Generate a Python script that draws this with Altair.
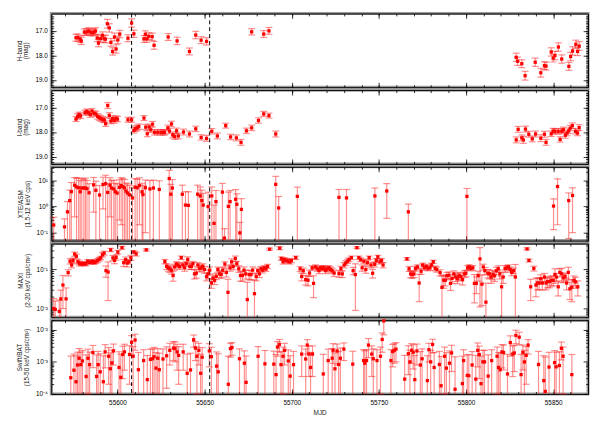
import altair as alt
import pandas as pd
import numpy as np

# ---------------- data ----------------
h_mjd = [55576.2, 55577.3, 55578.6, 55579.2, 55581.0, 55582.2, 55583.3, 55584.4, 55585.5, 55586.5,
         55587.4, 55588.4, 55589.1, 55590.2, 55591.4, 55592.3, 55593.1, 55594.2, 55595.3, 55596.2,
         55597.2, 55598.3, 55599.2, 55600.2, 55601.3, 55606.0, 55608.1, 55609.4, 55615.2, 55616.0,
         55616.9, 55618.0, 55619.9, 55621.0, 55629.1, 55634.2, 55641.3, 55644.9, 55648.0, 55651.1,
         55677.0, 55683.9, 55686.9,
         55828.8, 55829.6, 55832.0, 55833.9, 55839.7, 55842.9, 55845.0, 55845.9, 55848.9, 55850.0,
         55851.0, 55853.0, 55854.9, 55859.0, 55860.0, 55861.1, 55863.0, 55864.0, 55864.9]
h_mag = [17.28, 17.28, 17.34, 17.41, 17.05, 17.05, 17.01, 17.05, 17.08, 17.05,
         17.01, 17.29, 17.50, 17.32, 17.18, 17.32, 17.34, 16.71, 16.88, 17.47,
         17.84, 17.25, 17.74, 17.37, 17.13, 17.30, 16.68, 17.12, 17.33, 17.14,
         17.33, 17.22, 17.24, 17.59, 17.25, 17.41, 17.84, 17.17, 17.38, 17.43,
         17.04, 17.13, 17.00,
         18.08, 18.24, 18.34, 18.83, 18.28, 18.71, 18.42, 18.44, 17.86, 18.11,
         18.01, 17.66, 18.15, 18.45, 18.05, 17.82, 17.55, 17.84, 17.62]
h_err = [0.14, 0.15, 0.14, 0.15, 0.13, 0.14, 0.14, 0.14, 0.13, 0.14,
         0.14, 0.15, 0.15, 0.14, 0.14, 0.15, 0.15, 0.18, 0.17, 0.16,
         0.15, 0.16, 0.17, 0.15, 0.15, 0.14, 0.17, 0.15, 0.14, 0.14,
         0.14, 0.14, 0.15, 0.16, 0.14, 0.15, 0.14, 0.15, 0.14, 0.15,
         0.13, 0.14, 0.14,
         0.17, 0.17, 0.16, 0.18, 0.17, 0.18, 0.16, 0.16, 0.17, 0.16,
         0.17, 0.17, 0.17, 0.16, 0.17, 0.17, 0.17, 0.17, 0.18]

i_mjd = [55576.2, 55577.1, 55577.9, 55578.8, 55581.4, 55582.4, 55583.3, 55584.4, 55585.4, 55586.5,
         55587.6, 55588.6, 55589.5, 55590.4, 55591.6, 55592.5, 55593.2, 55594.4, 55595.3, 55596.2,
         55597.2, 55598.1, 55599.1, 55600.0, 55606.0, 55608.1, 55609.4, 55610.3, 55611.3, 55612.2,
         55615.2, 55616.2, 55617.1, 55618.2, 55619.1, 55620.1, 55621.2, 55623.1, 55624.9, 55626.1,
         55627.0, 55628.9, 55629.8, 55631.0, 55631.7, 55632.8, 55633.9, 55634.9, 55637.9, 55641.3,
         55644.9, 55648.0, 55651.1, 55654.1, 55657.3, 55662.1, 55664.9, 55668.2, 55670.9, 55674.0,
         55677.0, 55680.9, 55683.9, 55686.9, 55690.8,
         55828.8, 55829.9, 55832.0, 55832.9, 55834.1, 55836.0, 55838.0, 55839.9, 55842.9, 55845.0,
         55845.9, 55848.9, 55850.0, 55851.0, 55852.9, 55854.0, 55854.9, 55855.9, 55857.0, 55858.0,
         55858.9, 55859.8, 55861.0, 55862.8, 55864.0, 55864.9]
i_mag = [17.47, 17.36, 17.30, 17.34, 17.21, 17.16, 17.21, 17.29, 17.14, 17.24,
         17.26, 17.36, 17.41, 17.45, 17.49, 17.51, 17.66, 16.92, 17.32, 17.55,
         17.45, 17.53, 17.45, 17.47, 17.50, 17.50, 17.93, 17.87, 17.83, 17.78,
         17.43, 17.80, 18.07, 17.79, 17.91, 17.68, 18.01, 18.01, 18.01, 18.01,
         18.01, 17.83, 17.96, 17.67, 18.12, 18.18, 17.95, 18.16, 18.00, 18.08,
         17.87, 18.22, 18.26, 17.97, 18.16, 17.74, 18.20, 18.24, 18.42, 17.95,
         17.83, 17.53, 17.26, 17.33, 18.08,
         18.32, 17.89, 18.24, 18.32, 17.88, 18.09, 18.28, 18.08, 18.25, 18.09,
         18.42, 18.07, 17.96, 17.97, 17.97, 18.30, 17.96, 17.91, 18.13, 18.04,
         17.95, 17.84, 17.74, 17.97, 18.04, 17.82]
i_err = [0.10, 0.11, 0.11, 0.11, 0.10, 0.10, 0.10, 0.11, 0.10, 0.10,
         0.11, 0.11, 0.11, 0.11, 0.11, 0.11, 0.11, 0.12, 0.11, 0.11,
         0.11, 0.11, 0.11, 0.11, 0.10, 0.10, 0.11, 0.11, 0.11, 0.11,
         0.10, 0.11, 0.12, 0.11, 0.11, 0.11, 0.11, 0.11, 0.11, 0.11,
         0.11, 0.11, 0.11, 0.11, 0.12, 0.12, 0.11, 0.12, 0.12, 0.12,
         0.11, 0.11, 0.12, 0.11, 0.12, 0.10, 0.11, 0.12, 0.12, 0.11,
         0.11, 0.11, 0.10, 0.10, 0.12,
         0.12, 0.12, 0.12, 0.14, 0.12, 0.12, 0.12, 0.12, 0.14, 0.12,
         0.12, 0.11, 0.11, 0.11, 0.11, 0.11, 0.11, 0.11, 0.12, 0.11,
         0.11, 0.11, 0.11, 0.11, 0.11, 0.12]

asm_mjd = [55563.4, 55569.6, 55571.3, 55572.6, 55573.5, 55575.4, 55576.5, 55577.7, 55578.6, 55579.5,
           55580.7, 55581.6, 55582.5, 55583.7, 55586.3, 55587.6, 55589.7, 55591.7, 55593.2, 55594.4,
           55595.7, 55596.6, 55597.9, 55598.7, 55599.8, 55601.1, 55602.1, 55603.0, 55604.0, 55604.9,
           55605.8, 55606.9, 55608.6, 55610.1, 55611.3, 55612.6, 55614.1, 55614.6, 55616.0, 55618.6,
           55620.6, 55624.0, 55629.7, 55630.6, 55631.5, 55637.2, 55639.0, 55640.7, 55646.0, 55647.5,
           55648.4, 55649.2, 55652.0, 55654.1, 55655.4, 55656.5, 55660.2, 55661.4, 55663.6, 55664.6,
           55667.8, 55668.5, 55670.2, 55671.1, 55690.8, 55692.5, 55703.2, 55727.1, 55731.4, 55747.7,
           55754.5, 55766.9, 55800.5, 55850.2, 55852.5, 55858.9, 55861.1]
asm_rate = [0.196, 0.166, 0.62, 1.66, 3.6, 6.4, 5.5, 5.1, 3.6, 5.0,
            5.0, 5.0, 4.7, 3.3, 6.6, 4.1, 2.7, 6.8, 7.3, 3.4,
            6.4, 5.0, 4.6, 3.6, 3.2, 5.3, 6.2, 5.7, 5.0, 3.8,
            3.2, 2.75, 2.1, 5.4, 5.1, 6.2, 3.6, 2.8, 5.1, 4.6,
            5.0, 4.4, 11.5, 2.9, 5.0, 2.9, 1.12, 1.09, 2.9, 2.5,
            1.66, 1.12, 0.98, 2.5, 0.226, 1.52, 3.5, 0.062, 1.0, 1.52,
            1.86, 1.2, 0.098, 0.77, 6.9, 0.87, 2.4, 2.2, 2.1, 2.5,
            3.85, 0.62, 2.4, 1.03, 5.7, 1.66, 2.6]
asm_err = [0.19, 0.17, 0.9, 2.5, 4.5, 6.0, 6.5, 7.0, 6.0, 6.5,
           5.5, 7.0, 5.0, 4.0, 6.0, 5.0, 3.5, 6.0, 8.0, 4.0,
           6.0, 5.0, 5.0, 4.0, 4.0, 5.0, 6.0, 6.0, 5.5, 4.0,
           4.0, 3.5, 3.0, 6.0, 5.5, 6.0, 4.0, 3.5, 5.0, 5.0,
           5.0, 5.0, 12.0, 4.0, 5.5, 3.5, 2.5, 2.5, 3.5, 3.0,
           2.5, 2.0, 2.5, 3.0, 0.9, 2.5, 4.0, 0.08, 2.5, 2.5,
           2.5, 1.8, 0.15, 1.2, 7.0, 1.5, 3.0, 2.2, 2.3, 2.5,
           3.5, 0.6, 2.4, 0.9, 5.5, 1.6, 2.5]

maxi_mjd = [55563.4, 55564.3, 55566.6, 55567.5, 55568.7, 55570.5, 55571.7, 55572.8, 55573.7, 55574.5,
            55575.4, 55576.4, 55577.3, 55578.2, 55579.2, 55580.1, 55581.0, 55581.9, 55582.9, 55583.8,
            55584.8, 55585.7, 55586.7, 55587.6, 55588.5, 55589.5, 55590.4, 55591.4, 55592.3, 55593.4,
            55594.6, 55596.1, 55597.4, 55598.3, 55599.2, 55600.2, 55602.6, 55603.6, 55604.7, 55605.6,
            55606.6, 55607.7, 55609.4, 55610.7, 55616.5, 55627.2, 55628.2, 55629.1, 55630.0, 55631.0,
            55631.9, 55632.8, 55633.8, 55634.7, 55635.6, 55636.6, 55637.5, 55638.5, 55639.4, 55640.3,
            55641.5, 55642.4, 55643.3, 55644.2, 55645.2, 55646.1, 55647.1, 55648.0, 55648.9, 55649.9,
            55651.1, 55652.0, 55652.9, 55653.9, 55654.8, 55655.7, 55656.7, 55657.6, 55658.6, 55659.5,
            55660.4, 55661.6, 55662.5, 55663.4, 55664.6, 55665.5, 55666.4, 55667.6, 55668.5, 55669.6,
            55670.6, 55671.7, 55672.6, 55673.6, 55674.5, 55675.6, 55676.6, 55677.5, 55678.6, 55679.6,
            55680.5, 55681.5, 55682.4, 55683.3, 55684.3, 55685.2, 55686.1, 55687.3, 55693.1, 55694.0,
            55695.0, 55695.9, 55696.8, 55697.8, 55698.9, 55699.8, 55702.3,
            55704.8, 55705.7, 55706.6, 55708.0, 55709.3, 55710.2, 55711.7, 55712.5, 55713.6, 55714.7,
            55715.6, 55716.6, 55717.5, 55718.5, 55719.4, 55720.3, 55721.3, 55722.2, 55723.2, 55724.3,
            55727.1, 55728.2, 55729.0, 55730.1, 55731.0, 55732.0, 55732.9, 55734.2, 55735.2, 55736.5,
            55737.4, 55738.5, 55739.5, 55740.4, 55741.4, 55742.5, 55743.4, 55744.4, 55745.5, 55746.4,
            55747.6, 55748.5, 55749.4, 55750.6, 55751.5, 55752.4, 55766.1, 55767.3, 55768.2, 55769.1,
            55770.1, 55771.0, 55772.1, 55773.1, 55774.2, 55775.1, 55776.1, 55777.2, 55778.1, 55779.3,
            55780.2, 55781.2, 55782.3, 55783.2, 55785.1, 55786.2, 55787.2, 55788.1, 55789.0, 55790.2,
            55791.1, 55792.0, 55793.0, 55794.1, 55795.0, 55796.0, 55796.9, 55798.0, 55799.0, 55799.9,
            55800.9, 55801.8, 55802.7, 55803.9, 55804.8, 55805.9, 55806.9, 55808.0, 55809.1, 55809.9,
            55810.8, 55811.4, 55812.5, 55813.4, 55814.4, 55815.5, 55816.4, 55817.4, 55818.5, 55819.4,
            55820.4, 55821.3, 55822.4, 55823.4, 55824.3, 55825.3, 55826.2, 55827.3, 55828.3, 55835.0,
            55836.1, 55837.1, 55838.9, 55840.1, 55841.0, 55842.0, 55842.9, 55843.8, 55845.0, 55845.9,
            55846.8, 55848.0, 55848.9, 55850.0, 55851.0, 55851.9, 55852.9, 55853.8, 55854.9, 55855.9,
            55856.8, 55857.7, 55858.7, 55859.6, 55860.7, 55861.9, 55862.8, 55864.1]
maxi_rate = [0.0100, 0.0095, 0.0085, 0.0177, 0.040, 0.0177, 0.083, 0.163, 0.130, 0.170,
             0.247, 0.217, 0.157, 0.143, 0.140, 0.140, 0.140, 0.140, 0.163, 0.152,
             0.152, 0.163, 0.150, 0.157, 0.170, 0.183, 0.197, 0.238, 0.262, 0.093,
             0.086, 0.316, 0.197, 0.170, 0.204, 0.277, 0.360, 0.149, 0.178, 0.146,
             0.157, 0.200, 0.280, 0.250, 0.316, 0.160, 0.120, 0.110, 0.104, 0.096,
             0.070, 0.116, 0.137, 0.130, 0.120, 0.200, 0.130, 0.110, 0.140, 0.180,
             0.120, 0.120, 0.140, 0.077, 0.080, 0.130, 0.106, 0.110, 0.120, 0.100,
             0.066, 0.077, 0.096, 0.045, 0.060, 0.053, 0.067, 0.100, 0.077, 0.074,
             0.096, 0.137, 0.084, 0.026, 0.110, 0.157, 0.118, 0.190, 0.140, 0.104,
             0.070, 0.070, 0.096, 0.077, 0.017, 0.074, 0.074, 0.096, 0.024, 0.066,
             0.093, 0.077, 0.104, 0.096, 0.110, 0.104, 0.120, 0.330, 0.350, 0.190,
             0.157, 0.180, 0.170, 0.163, 0.157, 0.170, 0.200,
             0.104, 0.066, 0.093, 0.055, 0.053, 0.081, 0.110, 0.044, 0.116, 0.104,
             0.093, 0.110, 0.106, 0.110, 0.093, 0.104, 0.110, 0.100, 0.093, 0.081,
             0.078, 0.106, 0.077, 0.130, 0.146, 0.163, 0.178, 0.200, 0.093, 0.074,
             0.360, 0.200, 0.178, 0.110, 0.163, 0.100, 0.149, 0.200, 0.130, 0.080,
             0.135, 0.170, 0.210, 0.157, 0.170, 0.130, 0.186, 0.104, 0.077, 0.074,
             0.077, 0.106, 0.116, 0.045, 0.090, 0.130, 0.110, 0.120, 0.107, 0.110,
             0.130, 0.157, 0.107, 0.100, 0.083, 0.035, 0.053, 0.053, 0.069, 0.071,
             0.044, 0.059, 0.077, 0.064, 0.058, 0.069, 0.066, 0.055, 0.077, 0.080,
             0.110, 0.117, 0.107, 0.110, 0.044, 0.044, 0.070, 0.186, 0.042, 0.116,
             0.093, 0.0146, 0.080, 0.077, 0.064, 0.074, 0.069, 0.093, 0.104, 0.077,
             0.036, 0.064, 0.106, 0.110, 0.116, 0.100, 0.084, 0.093, 0.064, 0.335,
             0.170, 0.036, 0.106, 0.040, 0.045, 0.045, 0.058, 0.045, 0.064, 0.045,
             0.049, 0.049, 0.053, 0.053, 0.074, 0.064, 0.036, 0.084, 0.077, 0.061,
             0.066, 0.045, 0.084, 0.032, 0.035, 0.053, 0.048, 0.036]
maxi_err = [0.008, 0.006, 0.008, 0.012, 0.03, 0.016, 0.015, 0.025, 0.02, 0.025,
            0.03, 0.03, 0.02, 0.02, 0.015, 0.015, 0.015, 0.015, 0.015, 0.015,
            0.015, 0.015, 0.015, 0.015, 0.02, 0.02, 0.02, 0.03, 0.03, 0.03,
            0.07, 0.03, 0.03, 0.03, 0.03, 0.03, 0.03, 0.03, 0.03, 0.03,
            0.02, 0.03, 0.02, 0.03, 0.02, 0.02, 0.02, 0.02, 0.02, 0.02,
            0.02, 0.02, 0.02, 0.02, 0.02, 0.02, 0.02, 0.02, 0.02, 0.03,
            0.02, 0.02, 0.02, 0.02, 0.02, 0.02, 0.02, 0.02, 0.02, 0.02,
            0.015, 0.02, 0.02, 0.012, 0.012, 0.012, 0.012, 0.015, 0.015, 0.015,
            0.015, 0.02, 0.02, 0.03, 0.02, 0.03, 0.02, 0.03, 0.02, 0.02,
            0.02, 0.02, 0.02, 0.02, 0.03, 0.02, 0.02, 0.02, 0.03, 0.015,
            0.015, 0.015, 0.015, 0.015, 0.015, 0.015, 0.015, 0.02, 0.03, 0.02,
            0.02, 0.02, 0.02, 0.02, 0.02, 0.02, 0.02,
            0.015, 0.015, 0.015, 0.015, 0.015, 0.015, 0.015, 0.025, 0.015, 0.015,
            0.015, 0.015, 0.015, 0.015, 0.015, 0.015, 0.015, 0.015, 0.015, 0.015,
            0.015, 0.015, 0.015, 0.02, 0.02, 0.02, 0.02, 0.02, 0.02, 0.065,
            0.02, 0.02, 0.02, 0.02, 0.02, 0.02, 0.02, 0.02, 0.02, 0.02,
            0.02, 0.02, 0.02, 0.02, 0.02, 0.02, 0.015, 0.015, 0.015, 0.015,
            0.015, 0.015, 0.015, 0.03, 0.015, 0.015, 0.015, 0.015, 0.015, 0.015,
            0.015, 0.015, 0.015, 0.015, 0.015, 0.034, 0.02, 0.015, 0.015, 0.015,
            0.015, 0.015, 0.015, 0.015, 0.015, 0.015, 0.015, 0.015, 0.015, 0.015,
            0.015, 0.015, 0.015, 0.015, 0.03, 0.02, 0.02, 0.175, 0.03, 0.02,
            0.02, 0.03, 0.02, 0.02, 0.02, 0.02, 0.02, 0.02, 0.02, 0.02,
            0.03, 0.02, 0.02, 0.015, 0.015, 0.015, 0.015, 0.015, 0.07, 0.02,
            0.015, 0.02, 0.015, 0.02, 0.015, 0.015, 0.015, 0.015, 0.015, 0.015,
            0.015, 0.015, 0.015, 0.015, 0.03, 0.015, 0.015, 0.02, 0.03, 0.015,
            0.015, 0.015, 0.03, 0.015, 0.02, 0.015, 0.015, 0.015]

bat_mjd = [55573.2, 55575.0, 55576.2, 55577.1, 55578.0, 55579.0, 55579.9, 55582.0, 55583.1, 55584.0,
           55585.9, 55588.0, 55588.9, 55590.1, 55591.9, 55592.9, 55594.9, 55595.9, 55596.8, 55597.7,
           55600.9, 55601.9, 55603.0, 55604.0, 55606.9, 55608.1, 55609.0, 55610.1, 55612.0, 55615.0,
           55617.1, 55618.9, 55620.1, 55621.0, 55622.1, 55623.1, 55624.0, 55626.1, 55628.2, 55630.0,
           55632.1, 55633.0, 55634.2, 55635.1, 55637.7, 55640.0, 55641.9, 55643.7, 55644.7, 55645.6,
           55646.7, 55647.7, 55648.6, 55652.7, 55653.9, 55656.9, 55657.8, 55663.6, 55664.8, 55665.7,
           55670.0, 55672.8, 55673.8, 55680.7, 55684.6, 55689.7, 55691.0, 55691.8, 55692.9, 55693.8,
           55695.0, 55695.9, 55698.0, 55699.1, 55701.0,
           55705.7, 55708.0, 55708.9, 55709.8, 55710.8, 55711.9, 55718.1, 55720.9, 55723.2, 55723.7,
           55724.8, 55726.0, 55726.9, 55727.9, 55729.9, 55735.0, 55741.2, 55741.9, 55742.9, 55744.0,
           55745.9, 55746.8, 55748.9, 55750.9, 55751.9, 55752.8, 55756.9, 55757.9, 55758.8, 55759.8,
           55764.8, 55766.9, 55767.8, 55768.8, 55769.7, 55770.6, 55771.8, 55773.8, 55774.8, 55777.8,
           55778.7, 55779.7, 55780.8, 55781.7, 55784.7, 55785.7, 55787.7, 55788.7, 55790.5, 55791.7,
           55793.7, 55797.9, 55798.6, 55800.7, 55801.6, 55803.5, 55805.6, 55806.7, 55807.6, 55808.6,
           55809.7, 55810.6, 55812.7, 55814.7, 55817.8, 55818.7, 55819.6, 55820.6, 55821.5, 55823.8,
           55825.4, 55826.8, 55827.7, 55828.6, 55830.5, 55831.6, 55832.6, 55833.5, 55834.5, 55835.6,
           55841.6, 55844.6, 55845.5, 55847.6, 55850.8, 55851.7, 55853.6, 55854.7, 55855.7, 55860.7]
bat_rate = [3.2e-4, 5.5e-4, 2.4e-4, 8e-4, 1.3e-3, 8.2e-4, 1.07e-3, 3.5e-4, 1.3e-3, 8.2e-4,
            1.96e-3, 3.5e-4, 8.2e-4, 4.9e-4, 2.4e-4, 2.05e-3, 1.5e-3, 6.1e-4, 9.3e-4, 2.2e-3,
            6.7e-4, 3.3e-4, 1.7e-3, 2.05e-3, 1.7e-3, 4.1e-3, 1.5e-3, 4.8e-3, 5.7e-4, 1.1e-3,
            2.8e-4, 1.2e-3, 1.25e-3, 1.45e-3, 6.4e-4, 1.3e-3, 5.7e-4, 1.23e-3, 1.55e-3, 2.3e-3,
            2.7e-3, 2.6e-3, 2.05e-3, 1.6e-3, 2.05e-3, 4.4e-4, 5.6e-4, 4.9e-3, 2.7e-3, 1.5e-3,
            2.3e-3, 4.4e-4, 1.4e-3, 2.2e-3, 1.45e-3, 7.4e-4, 4.9e-4, 2e-4, 2.6e-3, 2.8e-3,
            1.25e-3, 9.1e-4, 2.3e-4, 1.5e-3, 8.7e-4, 8.5e-4, 4e-4, 2.9e-3, 3.5e-3, 8.2e-4,
            1.5e-3, 2.3e-3, 1.07e-3, 3.6e-4, 8.2e-4,
            1.75e-3, 1.23e-3, 3.35e-3, 1.75e-3, 6.7e-4, 1.75e-3, 4.2e-4, 1.1e-3, 1.3e-3, 2.3e-3,
            6.1e-4, 2.2e-3, 8.3e-4, 1.3e-3, 2.5e-3, 8.5e-4, 1.1e-3, 9.1e-4, 1.1e-3, 3.35e-3,
            1.75e-3, 1.25e-3, 1.1e-3, 1.5e-3, 5e-3, 1.9e-2, 1.1e-3, 2.1e-3, 2.3e-3, 2.5e-3,
            2.9e-4, 1.8e-3, 1e-3, 2.3e-3, 2e-3, 2.8e-4, 2.2e-3, 8e-4, 1.25e-3, 2.6e-4,
            2.4e-3, 1e-3, 3.5e-3, 6.7e-4, 8.3e-4, 1.8e-4, 1.5e-3, 6.4e-4, 9.1e-4, 1.9e-3,
            1.4e-4, 2.1e-4, 1.1e-3, 3.8e-4, 3.7e-4, 8e-4, 2.9e-4, 2.3e-3, 1.7e-3, 2.1e-4,
            1e-3, 1e-3, 3.6e-4, 1.1e-3, 1.5e-3, 6.7e-4, 5.7e-4, 2.05e-3, 1.96e-3, 4.2e-4,
            4e-3, 1.75e-3, 1.9e-3, 6.7e-3, 5.9e-3, 4e-4, 1.96e-3, 1e-3, 1.6e-3, 3.35e-3,
            8.3e-4, 2.6e-4, 1.2e-4, 6.9e-4, 9.5e-4, 7e-4, 7.7e-4, 2.65e-3, 1.5e-3, 4e-4]
bat_err = [1.2e-3, 1.2e-3, 1.3e-3, 1.2e-3, 1.3e-3, 1.2e-3, 1.2e-3, 1.3e-3, 1.2e-3, 1.2e-3,
           1.3e-3, 1.3e-3, 1.3e-3, 1.3e-3, 1.3e-3, 1.4e-3, 1.3e-3, 1.3e-3, 1.4e-3, 1.4e-3,
           1.4e-3, 1.4e-3, 1.4e-3, 1.5e-3, 1.5e-3, 2.5e-3, 1.5e-3, 2.5e-3, 1.4e-3, 1.3e-3,
           1.3e-3, 1.3e-3, 1.3e-3, 1.4e-3, 1.3e-3, 1.3e-3, 1.3e-3, 1.3e-3, 1.4e-3, 1.5e-3,
           1.6e-3, 1.6e-3, 1.5e-3, 1.4e-3, 1.5e-3, 1.3e-3, 1.3e-3, 2.0e-3, 1.6e-3, 1.4e-3,
           1.5e-3, 1.3e-3, 1.4e-3, 1.5e-3, 1.4e-3, 1.3e-3, 1.3e-3, 1.3e-3, 1.2e-3, 1.2e-3,
           1.3e-3, 1.3e-3, 1.3e-3, 1.5e-3, 1.4e-3, 1.3e-3, 1.3e-3, 1.4e-3, 1.5e-3, 1.3e-3,
           1.4e-3, 1.5e-3, 1.3e-3, 1.2e-3, 1.3e-3,
           1.4e-3, 1.3e-3, 1.6e-3, 1.4e-3, 1.3e-3, 1.4e-3, 1.3e-3, 1.4e-3, 1.3e-3, 1.4e-3,
           1.3e-3, 1.4e-3, 1.3e-3, 1.4e-3, 1.4e-3, 1.3e-3, 1.3e-3, 1.3e-3, 1.3e-3, 2.0e-3,
           1.4e-3, 1.3e-3, 1.3e-3, 1.4e-3, 3.0e-3, 1.2e-2, 1.3e-3, 1.4e-3, 1.4e-3, 1.5e-3,
           1.3e-3, 1.4e-3, 1.3e-3, 1.4e-3, 1.4e-3, 1.3e-3, 1.4e-3, 1.3e-3, 1.3e-3, 1.3e-3,
           1.4e-3, 1.3e-3, 1.6e-3, 1.3e-3, 1.3e-3, 1.3e-3, 1.4e-3, 1.3e-3, 1.3e-3, 1.4e-3,
           1.3e-3, 1.3e-3, 1.3e-3, 1.3e-3, 1.3e-3, 1.3e-3, 1.3e-3, 1.6e-3, 1.4e-3, 1.3e-3,
           1.3e-3, 1.3e-3, 1.3e-3, 1.3e-3, 1.4e-3, 1.3e-3, 1.3e-3, 1.4e-3, 1.4e-3, 1.3e-3,
           2.5e-3, 1.4e-3, 1.4e-3, 3.0e-3, 2.5e-3, 1.3e-3, 1.4e-3, 1.3e-3, 1.4e-3, 1.6e-3,
           1.3e-3, 1.3e-3, 1.3e-3, 1.3e-3, 1.3e-3, 1.3e-3, 1.3e-3, 1.5e-3, 1.4e-3, 1.3e-3]

event_mjd = [55608.1, 55652.9]

x_major = [55600, 55650, 55700, 55750, 55800, 55850]
x_minor = list(range(55570, 55870, 10))

# ---------------- layout ----------------
W, H = 546, 75
XDOM = [55562, 55870]
FONT = "Liberation Sans"
FS = 6.5
RED = "#ff2020"

SUP = {1: "\u00b9", 0: "\u2070", -1: "\u207b\u00b9", -2: "\u207b\u00b2",
       -3: "\u207b\u00b3", -4: "\u207b\u2074"}
E = "round(log(datum.value)/LN10)"
LOG_EXPR = "".join(f"{E} == {k} ? '10{v}' : " for k, v in SUP.items()) + "''"


def tax(orient, offset, values, size, domain=True):
    return alt.Axis(orient=orient, offset=offset, values=values, tickSize=size, ticks=True,
                    labels=False, domain=domain, domainColor="black", domainWidth=1,
                    tickColor="black", tickWidth=0.8, grid=False, title=None, minExtent=0)


def log_minor(lo_exp, hi_exp, lo, hi):
    out = []
    for e in range(lo_exp, hi_exp + 1):
        for m in range(2, 10):
            v = m * 10.0 ** e
            if lo <= v <= hi:
                out.append(v)
    return out


def panel(mjd, val, err, ylog, ydom, title, lab_vals, major_y, minor_y, bottom=False):
    n = min(len(mjd), len(val), len(err))
    df = pd.DataFrame({"mjd": mjd[:n], "val": val[:n], "err": err[:n]})
    df["hi"] = df["val"] + df["err"]
    lo = df["val"] - df["err"]
    ymin, ymax = min(ydom), max(ydom)
    if ylog:
        df["lo"] = np.where(lo > 0, lo, ymin * 0.01)
    else:
        df["lo"] = lo
    up = df[(df["hi"] <= ymax) & (df["hi"] >= ymin)]
    dn = df[(df["lo"] >= ymin) & (df["lo"] <= ymax)]

    xs = alt.Scale(domain=XDOM, nice=False, zero=False)
    common = dict(orient="left", values=lab_vals, ticks=False, tickSize=0, domain=False,
                  grid=False, labelFont=FONT, labelFontSize=FS, labelColor="black",
                  labelPadding=4, title=title, titleFont=FONT, titleFontSize=FS,
                  titleFontWeight="normal", titleColor="#222222", titlePadding=6,
                  titleLineHeight=7, minExtent=0)
    if ylog:
        ys = alt.Scale(type="log", domain=ydom, nice=False, clamp=True)
        ylab = alt.Axis(labelExpr=LOG_EXPR, **common)
    else:
        ys = alt.Scale(domain=ydom, nice=False, zero=False, reverse=True)
        ylab = alt.Axis(format=".1f", **common)

    if bottom:
        xlab = alt.Axis(orient="bottom", values=x_major, format="d", ticks=False, tickSize=0,
                        domain=False, grid=False, labelFont=FONT, labelFontSize=FS,
                        labelColor="black", labelPadding=6, title="MJD", titleFont=FONT,
                        titleFontSize=FS, titleFontWeight="normal", titleColor="#222222",
                        titlePadding=3, minExtent=0)
    else:
        xlab = None

    rule = alt.Chart(df).mark_rule(color=RED, opacity=0.5, strokeWidth=1.2).encode(
        x=alt.X("mjd:Q", scale=xs, axis=tax("top", -H, x_major, 5)),
        y=alt.Y("lo:Q", scale=ys, axis=ylab),
        y2="hi:Q",
    )
    capu = alt.Chart(up).mark_tick(orient="horizontal", size=7, thickness=1.2, color=RED,
                                   opacity=0.5).encode(
        x=alt.X("mjd:Q", scale=xs, axis=tax("bottom", -H, x_major, 5)),
        y=alt.Y("hi:Q", scale=ys, axis=tax("right", -W, major_y, 5)),
    )
    capd = alt.Chart(dn).mark_tick(orient="horizontal", size=7, thickness=1.2, color=RED,
                                   opacity=0.5).encode(
        x=alt.X("mjd:Q", scale=xs, axis=tax("top", -H, x_minor, 2.5, False)),
        y=alt.Y("lo:Q", scale=ys, axis=tax("left", -W, major_y, 5)),
    )
    vl = alt.Chart(pd.DataFrame({"x": event_mjd})).mark_rule(
        color="black", strokeDash=[4, 3], strokeWidth=1).encode(
        x=alt.X("x:Q", scale=xs, axis=None)
    )
    pts = alt.Chart(df).mark_square(size=11, color="#ff0000", opacity=1).encode(
        x=alt.X("mjd:Q", scale=xs, axis=tax("bottom", -H, x_minor, 2.5, False)),
        y=alt.Y("val:Q", scale=ys, axis=tax("right", -W, minor_y, 2.5, False)),
    )
    ghost = alt.Chart(df).mark_point(opacity=0, size=1).encode(
        x=alt.X("mjd:Q", scale=xs, axis=xlab),
        y=alt.Y("val:Q", scale=ys, axis=tax("left", -W, minor_y, 2.5, False)),
    )
    return alt.layer(rule, capu, capd, vl, pts, ghost).resolve_axis(
        x="independent", y="independent").properties(width=W, height=H)


mag_minor = [round(v, 1) for v in np.arange(16.4, 19.3, 0.1)]
MAGDOM = [16.29, 19.30]

p1 = panel(h_mjd, h_mag, h_err, False, MAGDOM, ["H-band", "(mag)"], [17, 18, 19],
           [17, 18, 19], mag_minor)
p2 = panel(i_mjd, i_mag, i_err, False, MAGDOM, ["I-band", "(mag)"], [17, 18, 19],
           [17, 18, 19], mag_minor)
p3 = panel(asm_mjd, asm_rate, asm_err, True, [0.05, 32], ["XTE/ASM", "(1.5-12 keV cps)"],
           [0.1, 1, 10], [0.1, 1, 10], log_minor(-2, 1, 0.05, 32))
p4 = panel(maxi_mjd, maxi_rate, maxi_err, True, [0.006, 0.46],
           ["MAXI", "(2-20 keV cps/cm\u00b2)"], [0.01, 0.1], [0.01, 0.1],
           log_minor(-3, -1, 0.006, 0.46))
p5 = panel(bat_mjd, bat_rate, bat_err, True, [1e-4, 0.02],
           ["Swift/BAT", "(15-50 keV cps/cm\u00b2)"], [1e-4, 1e-3, 1e-2], [1e-4, 1e-3, 1e-2],
           log_minor(-4, -2, 1e-4, 0.02), bottom=True)

chart = alt.vconcat(p1, p2, p3, p4, p5, spacing=3, bounds="flush").properties(
    padding={"left": 6, "top": 0, "right": 0, "bottom": 1},
    background="white",
).configure_view(stroke="#9a9a9a", strokeWidth=3)

chart.save("out.html", embed_options={"renderer": "svg", "actions": False})
